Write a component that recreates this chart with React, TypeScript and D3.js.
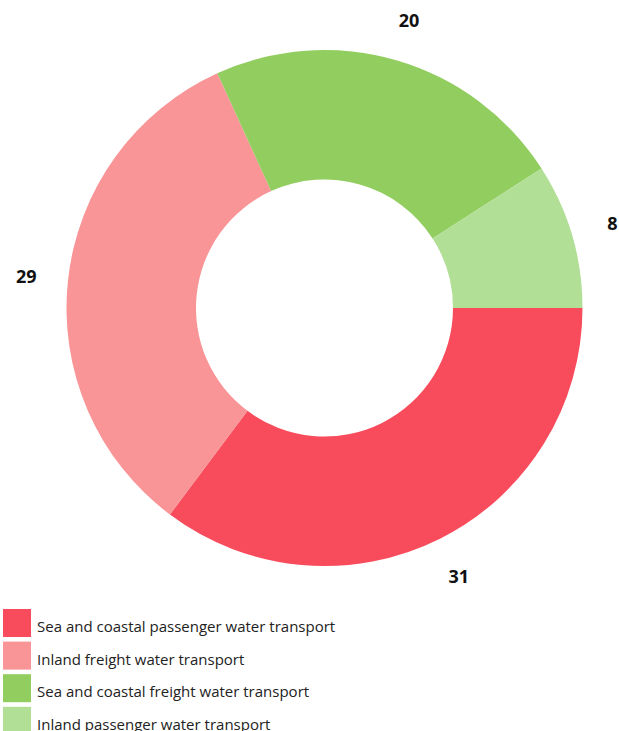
import { useEffect, useRef } from "react";
import * as d3 from "d3";

const categories = [
  "Sea and coastal passenger water transport",
  "Inland freight water transport",
  "Sea and coastal freight water transport",
  "Inland passenger water transport",
];
const values = [31, 29, 20, 8];
const colors = ["#F84C5C", "#F99497", "#92CD5F", "#B2DF96"];

const App = () => {
  const ref = useRef<SVGSVGElement | null>(null);

  useEffect(() => {
    const svg = d3.select(ref.current);
    svg.selectAll("*").remove();

    const cx = 324.5;
    const cy = 308;
    const outerR = 258;
    const innerR = 128.5;
    const labelR = 300;

    const pie = d3
      .pie<number>()
      .sort(null)
      .startAngle(Math.PI / 2)
      .endAngle(Math.PI / 2 + 2 * Math.PI)
      .value((d) => d);
    const arcs = pie(values);
    const arc = d3.arc<d3.PieArcDatum<number>>().innerRadius(innerR).outerRadius(outerR);
    const labelArc = d3.arc<d3.PieArcDatum<number>>().innerRadius(labelR).outerRadius(labelR);

    const g = svg.append("g").attr("transform", `translate(${cx},${cy})`);
    g.selectAll("path")
      .data(arcs)
      .enter()
      .append("path")
      .attr("d", arc)
      .attr("fill", (_d, i) => colors[i]);

    g.selectAll("text")
      .data(arcs)
      .enter()
      .append("text")
      .attr("transform", (d) => `translate(${labelArc.centroid(d)})`)
      .attr("text-anchor", "middle")
      .attr("dominant-baseline", "central")
      .attr("font-family", "'Open Sans', sans-serif")
      .attr("font-weight", "bold")
      .attr("font-size", 18)
      .attr("fill", "#111")
      .text((d) => d.data);

    // legend
    const legend = svg.append("g");
    categories.forEach((c, i) => {
      const y = 609 + i * 32.6;
      legend
        .append("rect")
        .attr("x", 3)
        .attr("y", y)
        .attr("width", 28)
        .attr("height", 28)
        .attr("fill", colors[i]);
      legend
        .append("text")
        .attr("x", 37)
        .attr("y", y + 23)
        .attr("font-family", "'Open Sans', sans-serif")
        .attr("font-size", 15)
        .attr("fill", "#222")
        .text(c);
    });
  }, []);

  return (
    <svg
      ref={ref}
      width={619}
      height={731}
      style={{ position: "absolute", left: 0, top: 0, background: "#fff" }}
    />
  );
};

export default App;
